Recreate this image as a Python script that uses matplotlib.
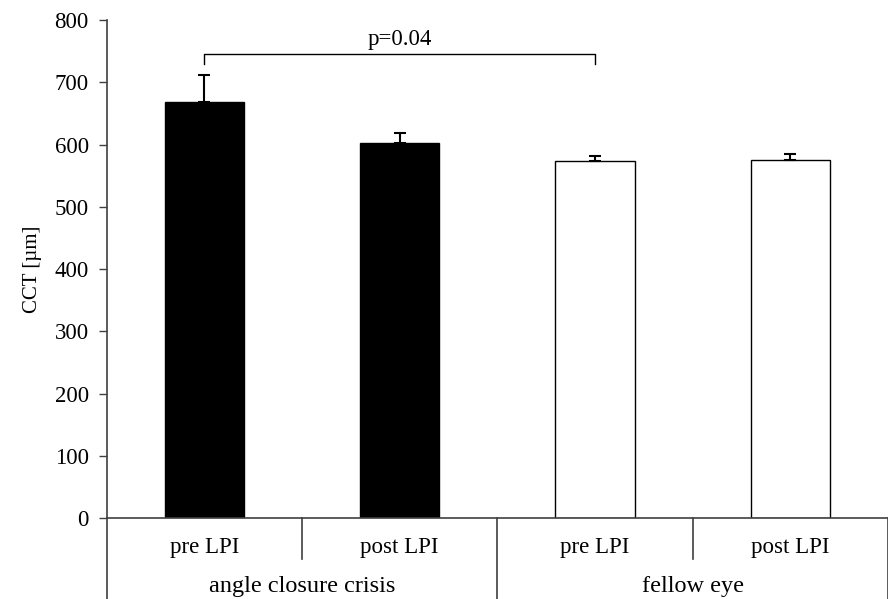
import numpy as np
import matplotlib
matplotlib.use("Agg")
import matplotlib.pyplot as plt

plt.rcParams['font.family'] = ['Liberation Serif', 'DejaVu Serif']

# data
conditions = ['pre LPI', 'post LPI', 'pre LPI', 'post LPI']
groups = ['angle closure crisis', 'fellow eye']
cct_mean = [668, 603, 573, 575]
cct_err = [44, 15, 8, 9]
bar_colors = ['black', 'black', 'white', 'white']
p_text = 'p=0.04'

fs = 16.5
fig = plt.figure(figsize=(8.88, 5.99), dpi=100)
ax = fig.add_axes([0.1202, 0.1352, 0.8798, 0.8314])

x = np.arange(len(conditions))
ax.bar(x, cct_mean, width=0.405, color=bar_colors, edgecolor='black', linewidth=1.0, zorder=2)
ax.errorbar(x, cct_mean, yerr=[np.zeros(len(cct_err)), cct_err], fmt='none',
            ecolor='black', elinewidth=1.5, capsize=4.5, capthick=1.5, zorder=3)

ax.set_xlim(-0.5, 3.5)
ax.set_ylim(0, 800)
ax.set_yticks(np.arange(0, 801, 100))
ax.set_xticks([])
ax.tick_params(axis='y', direction='out', length=6, width=1, color='#404040', labelsize=fs, pad=7)
for s in ['top', 'right']:
    ax.spines[s].set_visible(False)
for s in ['left', 'bottom']:
    ax.spines[s].set_color('#404040')
    ax.spines[s].set_linewidth(1.2)
ax.set_ylabel('CCT [µm]', fontsize=15, labelpad=9)

# category labels and separators below the axis
for i, lab in enumerate(conditions):
    ax.text(i, -47, lab, ha='center', va='center', fontsize=fs)
for i, g in enumerate(groups):
    ax.text(2 * i + 0.5, -110, g, ha='center', va='center', fontsize=17.5)
for xs in [0.5, 2.5]:
    ax.plot([xs, xs], [0, -66], color='#404040', lw=1.2, clip_on=False)
for xs in [-0.5, 1.5, 3.5]:
    ax.plot([xs, xs], [0, -135], color='#404040', lw=1.2, clip_on=False)

# significance bracket
yb = 746
ax.plot([0, 0, 2, 2], [729, yb, yb, 729], color='black', lw=1.0, clip_on=False)
ax.text(1, yb + 6, p_text, ha='center', va='bottom', fontsize=fs)

fig.savefig('out.png', dpi=100)
